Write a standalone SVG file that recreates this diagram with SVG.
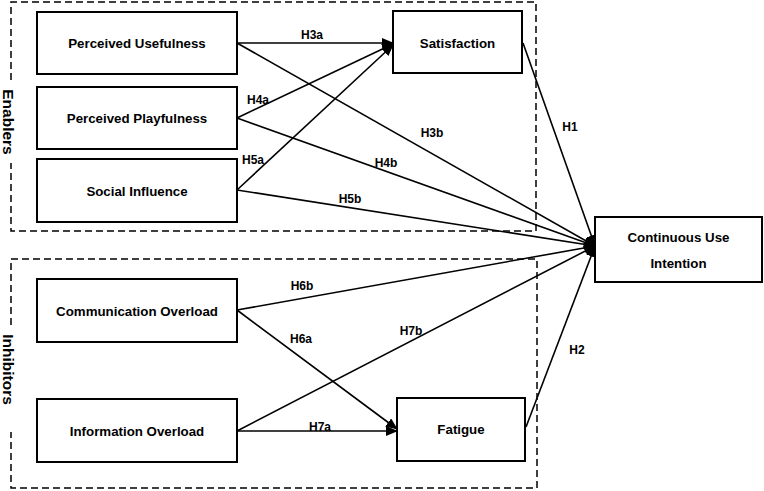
<svg xmlns="http://www.w3.org/2000/svg" width="764" height="491" viewBox="0 0 764 491">
<style>
.node rect{fill:#fff;stroke:#000;stroke-width:2}
.node text{font-family:"Liberation Sans",Arial,sans-serif;font-weight:bold;font-size:13.3px;text-anchor:middle;fill:#000}
.grp{fill:none;stroke:#000;stroke-width:1.5;stroke-dasharray:7,4}
.glabel{font-family:"Liberation Sans",Arial,sans-serif;font-weight:bold;font-size:15.5px;text-anchor:middle;fill:#000}
.conn line{stroke:#000;stroke-width:1.6}
.arr{marker-end:url(#ah)}
.lbl{font-family:"Liberation Sans",Arial,sans-serif;font-weight:bold;font-size:12px;text-anchor:middle;fill:#000}
</style>
<defs>
<marker id="ah" viewBox="0 0 12 10" refX="11" refY="5" markerWidth="12" markerHeight="10" markerUnits="userSpaceOnUse" orient="auto">
<path d="M0,0 L12,5 L0,10 Z" fill="#000"/>
</marker>
</defs>
<rect width="764" height="491" fill="#fff"/>
<g id="group-enablers">
<path class="grp" d="M11,80 L11,2 L536,2 L536,231 L11,231 L11,163"/>
<text class="glabel" transform="translate(3.2,122) rotate(90)">Enablers</text>
</g>
<g id="group-inhibitors">
<path class="grp" d="M11,325 L11,259 L537,259 L537,488 L11,488 L11,432"/>
<text class="glabel" transform="translate(3.2,369.5) rotate(90)">Inhibitors</text>
</g>
<g id="connectors" class="conn">
<line class="arr" x1="237" y1="43" x2="393" y2="43"/>
<line class="arr" x1="237" y1="118" x2="393" y2="44"/>
<line class="arr" x1="237" y1="190" x2="393" y2="45"/>
<line class="arr" x1="237" y1="43" x2="595" y2="246"/>
<line class="arr" x1="237" y1="118" x2="595" y2="246"/>
<line class="arr" x1="237" y1="190" x2="595" y2="246"/>
<line class="arr" x1="523" y1="43" x2="595" y2="246"/>
<line class="arr" x1="237" y1="310" x2="595" y2="246"/>
<line class="arr" x1="237" y1="431" x2="595" y2="246"/>
<line class="arr" x1="526" y1="427" x2="595" y2="246"/>
<line class="arr" x1="237" y1="310" x2="397" y2="429"/>
<line class="arr" x1="237" y1="431" x2="397" y2="431"/>
<text class="lbl" x="312" y="39">H3a</text>
<text class="lbl" x="258" y="104">H4a</text>
<text class="lbl" x="253" y="164">H5a</text>
<text class="lbl" x="432" y="137">H3b</text>
<text class="lbl" x="386" y="167">H4b</text>
<text class="lbl" x="350" y="203">H5b</text>
<text class="lbl" x="570" y="131">H1</text>
<text class="lbl" x="302" y="290">H6b</text>
<text class="lbl" x="301" y="343">H6a</text>
<text class="lbl" x="411" y="335">H7b</text>
<text class="lbl" x="320" y="431">H7a</text>
<text class="lbl" x="577" y="354">H2</text>
</g>
<g id="node-pu" class="node"><rect x="37" y="12" width="200" height="62"/><text x="137" y="47.5">Perceived Usefulness</text></g>
<g id="node-pp" class="node"><rect x="37" y="87" width="200" height="62"/><text x="137" y="122.5">Perceived Playfulness</text></g>
<g id="node-si" class="node"><rect x="37" y="159" width="200" height="63"/><text x="137" y="195.5">Social Influence</text></g>
<g id="node-co" class="node"><rect x="37" y="279" width="200" height="63"/><text x="137" y="315.5">Communication Overload</text></g>
<g id="node-io" class="node"><rect x="37" y="399" width="200" height="63"/><text x="137" y="435.5">Information Overload</text></g>
<g id="node-sat" class="node"><rect x="393" y="11" width="129" height="62"/><text x="457.5" y="47.5">Satisfaction</text></g>
<g id="node-fat" class="node"><rect x="397" y="398" width="128" height="63"/><text x="461" y="433.5">Fatigue</text></g>
<g id="node-cui" class="node"><rect x="595" y="217" width="167" height="65"/><text x="678.5" y="241.5">Continuous Use</text><text x="678.5" y="267.5">Intention</text></g>
</svg>
